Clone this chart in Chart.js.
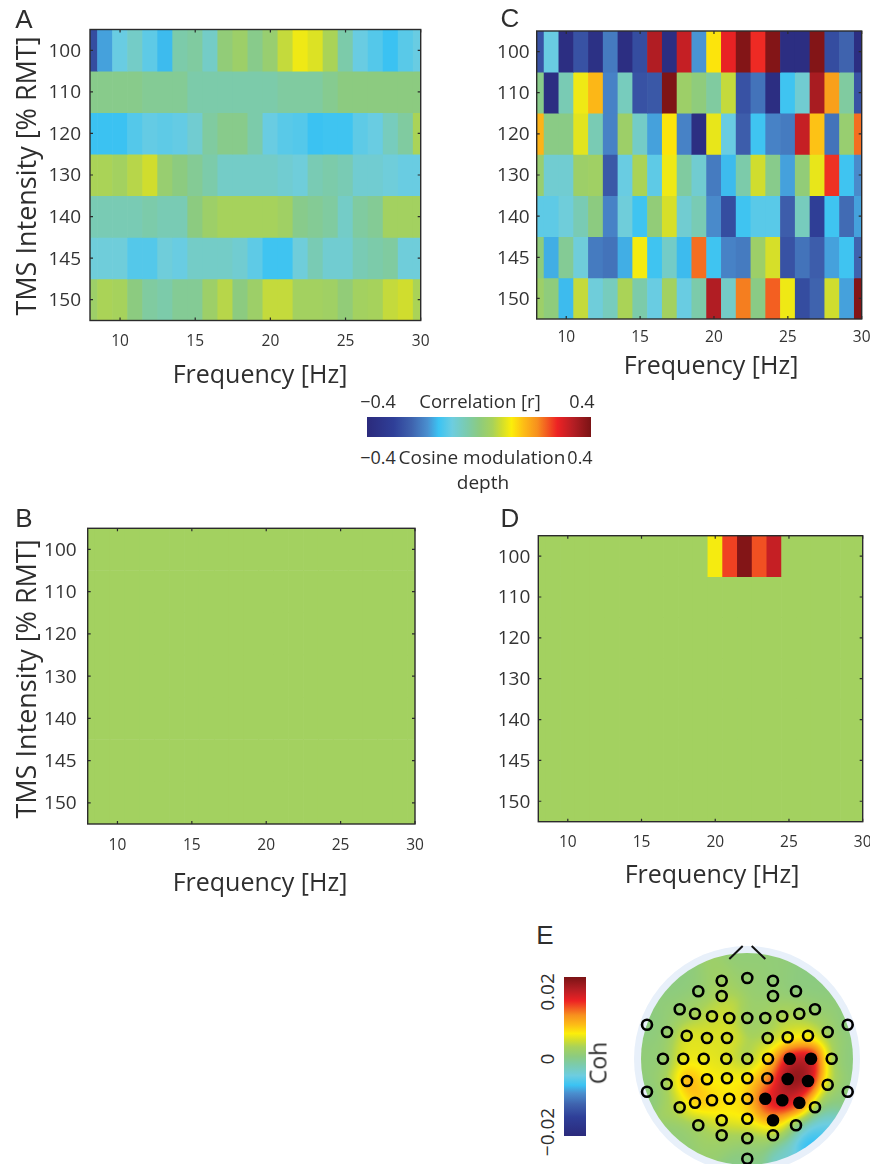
<!DOCTYPE html>
<html>
<head>
<meta charset="utf-8">
<title>TMS intensity and frequency maps</title>
<script src="https://cdn.jsdelivr.net/npm/chart.js@4/dist/chart.umd.min.js"></script>
<style>
html,body{margin:0;padding:0;background:#fff;overflow:hidden}
#page{position:relative;width:870px;height:1164px;overflow:hidden;font-family:"Open Sans",sans-serif;color:#2e2e2e}
#page canvas{position:absolute}
.txt{position:absolute;white-space:nowrap;transform:translate(-50%,-50%);line-height:1}
</style>
</head>
<body>
<div id="page"></div>
<script>
// frequency columns and intensity rows
var freqs=[8,9,10,11,12,13,14,15,16,17,18,19,20,21,22,23,24,25,26,27,28,29,30]
var freqTicks=[10,15,20,25,30]
var intensityLabels=["100","110","120","130","140","145","150"]

// panel A, correlation r
var a100=[-.28,-.17,-.10,-.07,-.11,-.15,-.04,-.03,-.07,.01,.03,-.01,.02,.07,.105,.09,.05,-.04,-.10,-.12,-.145,-.115,-.10]
var a110=[-.01,-.01,-.01,-.01,-.02,-.02,-.02,-.04,-.04,-.04,-.04,-.04,-.04,-.03,-.03,-.03,-.015,0,0,0,0,0,0]
var a120=[-.145,-.145,-.145,-.12,-.105,-.11,-.105,-.08,-.03,-.01,-.01,-.04,-.10,-.115,-.12,-.145,-.14,-.14,-.11,-.10,-.06,-.03,.05]
var a130=[.05,.05,.04,.06,.08,.02,0,-.02,-.04,-.07,-.07,-.07,-.07,-.08,-.09,-.05,-.04,-.05,-.08,-.08,-.09,-.10,-.10]
var a140=[-.05,-.05,-.05,-.05,-.04,-.05,-.05,0,.03,.045,.045,.045,.045,.035,-.01,-.02,-.03,-.07,-.03,-.02,.04,.04,.04]
var a145=[-.09,-.09,-.09,-.12,-.12,-.09,-.10,-.07,-.07,-.07,-.08,-.11,-.14,-.14,-.09,-.05,-.08,-.08,-.05,-.04,-.03,-.09,-.09]
var a150=[.03,.05,.045,0,-.03,-.04,-.02,-.02,.03,.06,0,.03,.07,.07,.04,.04,.035,.01,.04,.045,.07,.08,.05]

// panel C, cosine modulation depth
var c100=[-.27,-.10,-.38,-.27,-.37,-.21,-.38,-.28,.34,-.38,.32,-.18,.125,.285,.39,.275,.39,-.38,-.38,.39,-.28,-.24,-.38]
var c110=[-.01,-.38,-.05,.105,.165,-.20,-.06,-.27,-.26,.395,.03,.005,-.03,.07,-.27,-.22,-.38,-.14,-.08,.35,.19,-.03,-.27]
var c120=[.17,-.005,-.005,.095,-.05,-.20,.03,-.07,-.17,.125,-.20,-.38,.10,-.10,-.25,-.14,-.20,-.21,.32,.155,-.22,.02,.23]
var c130=[.02,-.08,-.08,.03,.035,-.26,-.10,.05,-.11,.105,-.03,-.08,-.21,-.15,-.04,.08,-.01,-.17,.01,.10,.27,-.14,-.19]
var c140=[-.11,-.11,-.09,-.05,0,-.20,-.09,-.14,.01,.085,-.08,-.05,-.19,-.28,-.14,-.115,-.115,-.25,-.06,-.31,-.14,-.23,-.17]
var c145=[.005,-.16,-.02,-.09,-.21,-.22,-.16,.11,-.14,-.07,-.15,.23,-.14,-.20,-.21,.03,.085,-.27,-.22,-.25,-.17,-.14,-.24]
var c150=[.03,.005,-.15,.07,-.09,-.06,.05,-.04,-.10,.04,-.10,-.04,.34,-.07,.22,-.005,.24,.105,-.28,-.24,.08,-.17,.39]

// panels B and D, thresholded maps
var flatRow=[.04,.04,.04,.04,.04,.04,.04,.04,.04,.04,.04,.04,.04,.04,.04,.04,.04,.04,.04,.04,.04,.04,.04]
var d100=[.04,.04,.04,.04,.04,.04,.04,.04,.04,.04,.04,.04,.11,.26,.39,.25,.32,.04,.04,.04,.04,.04,.04]

// colour scale
var cmapPos=[0,.12,.2,.27,.32,.38,.45,.5,.56,.6,.645,.7,.76,.85,.92,1]
var cmapHex=["#2b2a7c","#2f3f98","#3f63ae","#4a8fcf","#3bc3f3","#6dcde0","#7ccbaa","#8ccb80","#a8d25a","#d0dd2e","#fcee0a","#fdbc16","#f7901e","#ed2224","#b51e24","#7a1315"]

// panel E, electrode positions (head radius 106) and coherence x 1000
var elecX=[-25.3,.3,26,-48.7,-25.3,26,49,-67.3,-52,-35,-17.7,.3,18.3,35.3,52.3,68,-100,-80,-60.3,-40,-20,20.7,40.7,61,80.7,100.7,-84,-63.7,-43.3,-20.7,.3,21,42.7,64,84.7,-100,-80.3,-60,-40,-20,.3,20.3,40.7,61,80.7,100.7,-67.3,-52,-35,-17.7,.3,18.3,35.3,52.3,68,-48.7,-25.3,.3,26,49,-25.3,.3,26,.3]
var elecY=[78.3,81,78.3,67.7,63,63,67.7,49.7,45.3,42.7,41,41,41,42.7,45.3,49.7,34.3,27,23.3,21,21,21,21.7,23.3,27,34.3,.3,.3,.3,.3,.3,.3,.3,.3,.3,-32.7,-25,-22,-20.3,-19.3,-19.3,-19.3,-20,-22,-25.7,-32.7,-48.3,-43.7,-41.3,-39.7,-39.7,-39.7,-41.3,-43.7,-48.3,-66.3,-61.3,-59.7,-61.3,-66.3,-76.3,-79.3,-76.3,-99.7]
var elecCoh=[1.5,1,.5,.5,3,1,0,.5,2.5,3.5,4.5,1,1.5,3,2.5,.5,0,.5,5,4.5,4.5,2.5,4.5,5.5,1.5,0,.5,5,5,4.5,1.5,6,17,18,1,0,1.5,10,5.5,5.5,6,10,20,19,2.5,0,2,9,7,6,6.5,15,17,15,2.5,1.5,6,6,11,.5,1,1.5,.5,-.5]
var elecSig=[0,0,0,0,0,0,0,0,0,0,0,0,0,0,0,0,0,0,0,0,0,0,0,0,0,0,0,0,0,0,0,0,1,1,0,0,0,0,0,0,0,0,1,1,0,0,0,0,0,0,0,1,1,1,0,0,0,0,1,0,0,0,0,0]
// map values read off the scalp rim, no electrode there
var rimX=[0,-70,70,105,-105,-70,62,72,40,85,80]
var rimY=[100,75,75,0,0,-78,-82,-70,-95,-45,-62]
var rimCoh=[.5,0,0,0,.5,.5,-9,-6,-4,0,-6]
var noseLeftX=[-17.7,-4.3],noseLeftY=[100,113]
var noseRightX=[4.7,18.3],noseRightY=[113,100]

var page=document.getElementById("page")

function hexRgb(h){
  return [parseInt(h.substr(1,2),16),parseInt(h.substr(3,2),16),parseInt(h.substr(5,2),16)]
}

// t is 0..1 along the colour bar
function cmapRgb(t){
  t=Math.max(0,Math.min(1,t))
  var i=0
  while(i<cmapPos.length-2 && t>cmapPos[i+1]) i++
  var f=(t-cmapPos[i])/(cmapPos[i+1]-cmapPos[i])
  var a=hexRgb(cmapHex[i]),b=hexRgb(cmapHex[i+1])
  return [a[0]+(b[0]-a[0])*f,a[1]+(b[1]-a[1])*f,a[2]+(b[2]-a[2])*f]
}

function rColor(v){
  var c=cmapRgb((v+.4)/.8)
  return "rgb("+Math.round(c[0])+","+Math.round(c[1])+","+Math.round(c[2])+")"
}

function addCanvas(left,top,w,h){
  var c=document.createElement("canvas")
  c.width=w;c.height=h
  c.style.left=left+"px";c.style.top=top+"px"
  c.style.width=w+"px";c.style.height=h+"px"
  page.appendChild(c)
  return c.getContext("2d")
}

function addText(text,x,y,size,opt){
  opt=opt||{}
  var d=document.createElement("div")
  d.className="txt"
  d.textContent=text
  d.style.left=x+"px";d.style.top=y+"px";d.style.fontSize=size+"px"
  if(opt.family) d.style.fontFamily=opt.family
  if(opt.rotate) d.style.transform="translate(-50%,-50%) rotate(-90deg)"
  page.appendChild(d)
}

// box round the plot with short ticks pointing inward, on all four sides
var boxTicks={
  id:"boxTicks",
  afterDraw:function(chart){
    var ctx=chart.ctx,a=chart.chartArea
    ctx.save()
    ctx.strokeStyle="#2b2b2b"
    ctx.lineWidth=1.2
    ctx.beginPath()
    chart.scales.x.ticks.forEach(function(t){
      var p=chart.scales.x.getPixelForValue(t.value)
      ctx.moveTo(p,a.top);ctx.lineTo(p,a.top+3)
      ctx.moveTo(p,a.bottom);ctx.lineTo(p,a.bottom-3)
    })
    chart.scales.y.ticks.forEach(function(t){
      var p=chart.scales.y.getPixelForValue(t.value)
      ctx.moveTo(a.left,p);ctx.lineTo(a.left+3,p)
      ctx.moveTo(a.right,p);ctx.lineTo(a.right-3,p)
    })
    ctx.stroke()
    ctx.lineWidth=1.4
    ctx.strokeRect(a.left,a.top,a.right-a.left,a.bottom-a.top)
    ctx.restore()
  }
}

function heatmap(rows,box){
  var w=box.canvasW,h=box.canvasH
  var ctx=addCanvas(box.canvasX,box.canvasY,w,h)
  var datasets=rows.map(function(row,r){
    return {
      data:row.map(function(v,i){return {x:freqs[i],y:[r-.5,r+.5]}}),
      backgroundColor:row.map(rColor),
      borderWidth:0,
      barPercentage:1,
      categoryPercentage:1,
      grouped:false
    }
  })
  new Chart(ctx,{
    type:"bar",
    data:{datasets:datasets},
    plugins:[boxTicks],
    options:{
      responsive:false,
      animation:false,
      layout:{padding:{top:box.top-box.canvasY,right:box.canvasX+w-box.right,left:0,bottom:0}},
      plugins:{legend:{display:false},tooltip:{enabled:false}},
      scales:{
        x:{
          type:"linear",min:8,max:30,offset:false,
          grid:{display:false,drawTicks:false},border:{display:false},
          afterBuildTicks:function(s){s.ticks=freqTicks.map(function(f){return {value:f}})},
          afterFit:function(s){s.height=box.canvasY+h-box.bottom},
          ticks:{autoSkip:false,maxRotation:0,padding:box.xPad,color:"#333",font:{family:"Open Sans",size:15.5},
            callback:function(v){return String(v)}}
        },
        y:{
          type:"linear",min:-.5,max:6.5,reverse:true,
          grid:{display:false,drawTicks:false},border:{display:false},
          afterBuildTicks:function(s){s.ticks=intensityLabels.map(function(l,i){return {value:i}})},
          afterFit:function(s){s.width=box.left-box.canvasX},
          ticks:{autoSkip:false,padding:box.yPad,labelOffset:1,color:"#333",font:{family:"Open Sans",size:19},
            callback:function(v){return intensityLabels[v]}}
        }
      }
    }
  })
}

heatmap([a100,a110,a120,a130,a140,a145,a150],{canvasX:0,canvasY:0,canvasW:470,canvasH:360,left:90,right:420.7,top:29.5,bottom:320.5,xPad:12,yPad:9})
heatmap([c100,c110,c120,c130,c140,c145,c150],{canvasX:480,canvasY:0,canvasW:420,canvasH:355,left:536.7,right:861.7,top:31,bottom:319,xPad:9,yPad:7})
heatmap([flatRow,flatRow,flatRow,flatRow,flatRow,flatRow,flatRow],{canvasX:0,canvasY:490,canvasW:470,canvasH:375,left:87.7,right:415,top:528.3,bottom:824,xPad:12,yPad:11})
heatmap([d100,flatRow,flatRow,flatRow,flatRow,flatRow,flatRow],{canvasX:480,canvasY:500,canvasW:420,canvasH:360,left:538.3,right:862.7,top:535.7,bottom:821.7,xPad:12,yPad:8})

// colour bars are a single floating bar with the colour map as its fill
function colorBar(left,top,w,h,horizontal,lo,hi){
  var ctx=addCanvas(left,top,w,h)
  new Chart(ctx,{
    type:"bar",
    data:{
      labels:["scale"],
      datasets:[{
        data:[[lo,hi]],
        borderWidth:0,
        barPercentage:1,
        categoryPercentage:1,
        backgroundColor:function(c){
          var a=c.chart.chartArea
          if(!a) return "#8ccb80"
          var g=horizontal?c.chart.ctx.createLinearGradient(a.left,0,a.right,0):c.chart.ctx.createLinearGradient(0,a.bottom,0,a.top)
          cmapPos.forEach(function(p,i){g.addColorStop(p,cmapHex[i])})
          return g
        }
      }]
    },
    options:{
      indexAxis:horizontal?"y":"x",
      responsive:false,
      animation:false,
      plugins:{legend:{display:false},tooltip:{enabled:false}},
      scales:horizontal?{
        x:{display:false,min:lo,max:hi},y:{display:false}
      }:{
        y:{display:false,min:lo,max:hi},x:{display:false}
      }
    }
  })
}
colorBar(367,417,224,20,true,-.4,.4)
colorBar(564,977,22,159,false,-.02,.02)

// scalp map, electrode values spread with a gaussian weighted average
var headMap={
  id:"headMap",
  beforeDatasetsDraw:function(chart){
    var ctx=chart.ctx,sx=chart.scales.x,sy=chart.scales.y
    var cx=sx.getPixelForValue(0),cy=sy.getPixelForValue(0)
    ctx.save()
    ctx.fillStyle="#e8f0fa"
    ctx.beginPath()
    ctx.arc(cx,cy,113,0,Math.PI*2)
    ctx.fill()
    ctx.restore()

    var px=elecX.concat(rimX),py=elecY.concat(rimY),pv=elecCoh.concat(rimCoh)
    var R=106,size=R*2
    var off=document.createElement("canvas")
    off.width=size;off.height=size
    var octx=off.getContext("2d")
    var img=octx.createImageData(size,size)
    for(var j=0;j<size;j++){
      for(var i=0;i<size;i++){
        var gx=i-R+.5,gy=R-j-.5
        var sw=0,sv=0
        for(var k=0;k<px.length;k++){
          var dx=gx-px[k],dy=gy-py[k]
          var w=Math.exp(-(dx*dx+dy*dy)/(2*11*11))+1e-9
          sw+=w;sv+=w*pv[k]
        }
        var c=cmapRgb((sv/sw/1000+.02)/.04)
        var o=(j*size+i)*4
        img.data[o]=c[0];img.data[o+1]=c[1];img.data[o+2]=c[2];img.data[o+3]=255
      }
    }
    octx.putImageData(img,0,0)
    ctx.save()
    ctx.beginPath()
    ctx.arc(cx,cy,R,0,Math.PI*2)
    ctx.clip()
    ctx.drawImage(off,cx-R,cy-R)
    ctx.restore()
  }
}

function xyPoints(xs,ys){
  return xs.map(function(x,i){return {x:x,y:ys[i]}})
}

var headCtx=addCanvas(620,935,250,229)
new Chart(headCtx,{
  type:"scatter",
  data:{
    datasets:[
      {
        label:"Electrodes",
        data:xyPoints(elecX,elecY),
        backgroundColor:elecSig.map(function(s){return s?"#000":"rgba(0,0,0,0)"}),
        borderColor:"#000",
        borderWidth:2.6,
        pointRadius:elecSig.map(function(s){return s?5:5})
      },
      {data:xyPoints(noseLeftX,noseLeftY),showLine:true,borderColor:"#111",borderWidth:2,pointRadius:0},
      {data:xyPoints(noseRightX,noseRightY),showLine:true,borderColor:"#111",borderWidth:2,pointRadius:0}
    ]
  },
  plugins:[headMap],
  options:{
    responsive:false,
    animation:false,
    layout:{autoPadding:false},
    plugins:{legend:{display:false},tooltip:{enabled:false}},
    scales:{
      x:{display:false,min:-127,max:123},
      y:{display:false,min:-105,max:124}
    }
  }
})

// panel letters
var letterFont="Liberation Sans"
addText("A",24,19,26,{family:letterFont})
addText("C",510,18,26,{family:letterFont})
addText("B",24,518,26,{family:letterFont})
addText("D",510,518,26,{family:letterFont})
addText("E",545,935,26,{family:letterFont})

// axis titles
addText("TMS Intensity [% RMT]",25,176,27,{rotate:true})
addText("TMS Intensity [% RMT]",25,679,27,{rotate:true})
addText("Frequency [Hz]",260,373,25)
addText("Frequency [Hz]",711,364,25)
addText("Frequency [Hz]",260,881,25)
addText("Frequency [Hz]",712,873,25)

// colour bar labels
addText("\u22120.4",378,401,18)
addText("Correlation [r]",480,401,18.5)
addText("0.4",582,401,18)
addText("\u22120.4",378,457,18)
addText("Cosine modulation",482,457,19)
addText("0.4",580,457,18)
addText("depth",483,482,19)

addText("0.02",547,992,19,{rotate:true})
addText("0",547,1059,19,{rotate:true})
addText("\u22120.02",547,1132,19,{rotate:true})
addText("Coh",598,1063,23,{rotate:true})
</script>
</body>
</html>
